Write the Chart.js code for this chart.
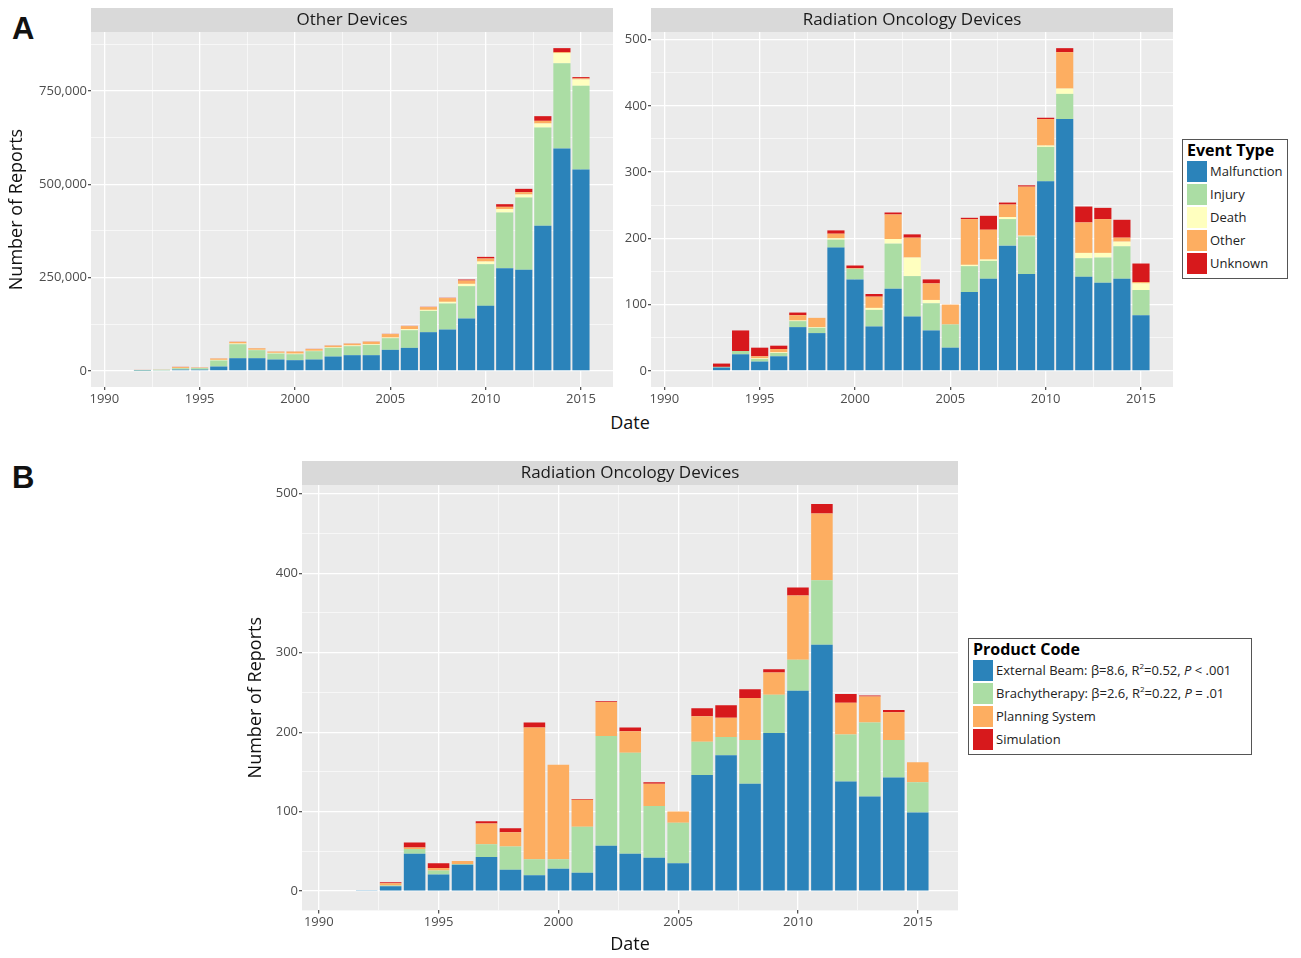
<!DOCTYPE html>
<html>
<head>
<meta charset="utf-8">
<script src="https://cdn.jsdelivr.net/npm/chart.js@4.4.1/dist/chart.umd.min.js"></script>
<style>
  body { margin: 0; background: #fff; font-family: "Open Sans", sans-serif; }
  #page { position: relative; width: 1301px; height: 958px; overflow: hidden; }
  canvas { position: absolute; }
  .letter { position: absolute; font-family: "Liberation Sans", Arial, sans-serif; font-weight: bold; font-size: 31px; line-height: 31px; color: #111; }
  .xtitle { position: absolute; width: 200px; margin-left: -100px; text-align: center; font-size: 18px; line-height: 22px; color: #111; }
  .legend { position: absolute; border: 1px solid #555; background: #fff; box-sizing: border-box; white-space: nowrap; }
  .legend .ttl { font-weight: bold; font-size: 16px; line-height: 21px; height: 21px; color: #000; }
  .legend .row { display: flex; height: 21px; margin-bottom: 2px; overflow: visible; }
  .legend .key { width: 20px; height: 21px; flex: none; }
  .legend .lab { margin-left: 3px; font-size: 13px; line-height: 21px; height: 21px; color: #222; }
  .legend sup { font-size: 8px; line-height: 0; vertical-align: 0; position: relative; top: -6px; }
</style>
</head>
<body>
<div id="page">
  <div class="letter" style="left:12px;top:13px;">A</div>
  <div class="letter" style="left:12px;top:462px;">B</div>
  <canvas id="chartA1" width="620" height="407" style="left:0;top:0;"></canvas>
  <canvas id="chartA2" width="560" height="407" style="left:620px;top:0;"></canvas>
  <div class="xtitle" style="left:630px;top:411px;">Date</div>
  <div class="legend" id="legendA" style="left:1182px;top:139px;width:106px;height:140px;padding:0 0 0 4px;"></div>
  <canvas id="chartB" width="735" height="505" style="left:230px;top:453px;"></canvas>
  <div class="legend" id="legendB" style="left:968px;top:638px;width:284px;height:117px;padding:0 0 0 4px;"></div>
</div>
<script>
const $ = (sel) => document.querySelector(sel);

/* Data: one bar per year, 1992-2015 */
const years = [1992, 1993, 1994, 1995, 1996, 1997, 1998, 1999, 2000, 2001, 2002, 2003,
               2004, 2005, 2006, 2007, 2008, 2009, 2010, 2011, 2012, 2013, 2014, 2015];

// Other devices, by event type
const otherMalfunction = [800, 1500, 3500, 3500, 11600, 33900, 33900, 30400, 28600, 30400, 38400, 42000,
                          42000, 56300, 61600, 103600, 110700, 140200, 174100, 275000, 270500, 388400, 595600, 539300];
const otherInjury = [1500, 1500, 3500, 3800, 16100, 37500, 21500, 16000, 16000, 22300, 23200, 24100,
                     27600, 31200, 47300, 57100, 69700, 86600, 111600, 149100, 193800, 263400, 228500, 224100];
const otherDeath = [100, 100, 500, 400, 1800, 1800, 1000, 1800, 1500, 1000, 1500, 2000,
                    1800, 1800, 2700, 2700, 4500, 6200, 7100, 8900, 8000, 10700, 26800, 17000];
const otherOther = [200, 300, 2500, 1000, 3500, 4300, 4000, 3300, 5500, 4700, 4500, 4800,
                    6800, 9300, 8300, 7400, 10000, 8900, 8000, 6300, 6300, 7100, 2700, 2700];
const otherUnknown = [100, 100, 700, 300, 300, 400, 300, 300, 300, 500, 400, 400,
                      400, 500, 600, 700, 800, 2700, 4500, 7100, 8900, 12500, 10700, 3600];

// Radiation oncology devices, by event type
const radMalfunction = [1, 5, 25, 14, 22, 66, 57, 186, 138, 67, 124, 82,
                        61, 35, 119, 139, 189, 146, 286, 380, 142, 133, 139, 84];
const radInjury = [0, 1, 5, 4, 5, 9, 8, 12, 16, 25, 68, 61,
                   41, 35, 39, 27, 40, 57, 52, 38, 28, 38, 49, 38];
const radDeath = [0, 0, 0, 1, 1, 1, 1, 2, 0, 3, 7, 28,
                  5, 0, 2, 2, 3, 1, 2, 8, 8, 7, 7, 10];
const radOther = [0, 0, 0, 3, 5, 8, 14, 7, 1, 17, 37, 30,
                  25, 30, 69, 45, 19, 74, 40, 55, 46, 51, 6, 2];
const radUnknown = [0, 5, 31, 13, 5, 4, 0, 5, 4, 4, 3, 5,
                    6, 0, 2, 21, 3, 2, 2, 6, 24, 17, 27, 28];

// Radiation oncology devices, by product code
const radExternal = [1, 6, 47, 21, 33, 43, 27, 20, 28, 23, 57, 47,
                     42, 35, 146, 171, 135, 199, 252, 310, 138, 119, 143, 99];
const radBrachy = [0, 1, 6, 5, 1, 16, 29, 20, 12, 58, 138, 127,
                   65, 51, 42, 23, 55, 48, 39, 81, 59, 93, 47, 38];
const radPlanning = [0, 3, 2, 3, 4, 26, 18, 166, 119, 34, 43, 27,
                     28, 14, 32, 24, 53, 28, 81, 84, 40, 33, 35, 25];
const radSimulation = [0, 1, 6, 6, 0, 3, 5, 6, 0, 1, 1, 5,
                       2, 0, 10, 16, 11, 4, 10, 12, 11, 1, 3, 0];

const eventTypes = ["Malfunction", "Injury", "Death", "Other", "Unknown"];
const eventColors = ["#2B83BA", "#ABDDA4", "#FFFFBF", "#FDAE61", "#D7191C"];
const productCodes = ["External Beam", "Brachytherapy", "Planning System", "Simulation"];
const productLabels = [
  "External Beam: β=8.6, R<sup>2</sup>=0.52, <i>P</i> &lt; .001",
  "Brachytherapy: β=2.6, R<sup>2</sup>=0.22, <i>P</i> = .01",
  "Planning System",
  "Simulation"
];
const productColors = ["#2B83BA", "#ABDDA4", "#FDAE61", "#D7191C"];

/* Axis ticks (major labelled, minor only as grid lines) */
const xMajor = [1990, 1995, 2000, 2005, 2010, 2015];
const xMinor = [1992.5, 1997.5, 2002.5, 2007.5, 2012.5];
const yMajorOther = [0, 250000, 500000, 750000];
const yMinorOther = [125000, 375000, 625000, 875000];
const yMajorRad = [0, 100, 200, 300, 400, 500];
const yMinorRad = [50, 150, 250, 350, 450];

Chart.defaults.font.family = "'Open Sans', sans-serif";
Chart.defaults.color = "#4D4D4D";

const stripPlugin = {
  id: "strip",
  beforeDraw(chart) {
    const { ctx, chartArea: a } = chart;
    const t = chart.titleBlock;
    ctx.save();
    ctx.fillStyle = "#D9D9D9";
    ctx.fillRect(a.left, t.top, a.right - a.left, t.bottom - t.top);
    ctx.fillStyle = "#EBEBEB";
    ctx.fillRect(a.left, a.top, a.right - a.left, a.bottom - a.top);
    ctx.restore();
  }
};

function makeSets(names, colors, series) {
  return names.map((name, i) => ({
    label: name,
    data: years.map((yr, j) => ({ x: yr, y: series[i][j] })),
    backgroundColor: colors[i],
    borderWidth: 0,
    barPercentage: 0.9,
    categoryPercentage: 1.0
  }));
}

function axisGrid(major) {
  return {
    color: "#FFFFFF",
    lineWidth: (c) => (c.tick && major.includes(c.tick.value) ? 1.3 : 0.6),
    tickColor: (c) => (c.tick && major.includes(c.tick.value) ? "#555" : "rgba(0,0,0,0)"),
    tickLength: 3,
    offset: false
  };
}

/* Build one panel */
function makePanel(id, o) {
  return new Chart($(id), {
    type: "bar",
    data: { datasets: makeSets(o.names, o.colors, o.series) },
    plugins: [stripPlugin],
    options: {
      responsive: false,
      animation: false,
      layout: { padding: { top: 8, left: 0, right: 7, bottom: 0 } },
      plugins: {
        legend: { display: false },
        tooltip: { enabled: false },
        title: {
          display: true, text: o.title, fullSize: false,
          color: "#1A1A1A",
          font: { size: 17, weight: "normal", lineHeight: 1.2 },
          padding: { top: 2, bottom: 1.6 }
        }
      },
      scales: {
        x: {
          type: "linear", stacked: true, offset: false,
          min: 1989.3, max: 2016.68,
          afterBuildTicks: (s) => { s.ticks = [...xMajor, ...xMinor].sort((a, b) => a - b).map(v => ({ value: v })); },
          afterFit: (s) => { s.height = o.xHeight; },
          ticks: { autoSkip: false, maxRotation: 0, padding: 1, font: { size: 13 },
                   callback: (v) => (xMajor.includes(v) ? String(v) : "") },
          grid: axisGrid(xMajor),
          border: { display: false },
          title: o.xTitle ? { display: true, text: "Date", color: "#111", font: { size: 18 }, padding: { top: 0, bottom: 2 } } : { display: false }
        },
        y: {
          stacked: true,
          min: o.yMin, max: o.yMax,
          afterBuildTicks: (s) => { s.ticks = [...o.yMajor, ...o.yMinor].sort((a, b) => a - b).map(v => ({ value: v })); },
          afterFit: (s) => { s.width = o.yWidth; },
          ticks: { padding: 1, font: { size: 13 },
                   callback: (v) => (o.yMajor.includes(v) ? v.toLocaleString("en-US") : "") },
          grid: axisGrid(o.yMajor),
          border: { display: false },
          title: o.yTitle ? { display: true, text: "Number of Reports", color: "#111", font: { size: 18 }, padding: { top: o.yTitlePad, bottom: 0 } } : { display: false }
        }
      }
    }
  });
}

makePanel("#chartA1", {
  title: "Other Devices",
  names: eventTypes, colors: eventColors,
  series: [otherMalfunction, otherInjury, otherDeath, otherOther, otherUnknown],
  yMin: -43200, yMax: 907500, yMajor: yMajorOther, yMinor: yMinorOther,
  yWidth: 91, yTitle: true, yTitlePad: 6, xHeight: 20, xTitle: false
});

makePanel("#chartA2", {
  title: "Radiation Oncology Devices",
  names: eventTypes, colors: eventColors,
  series: [radMalfunction, radInjury, radDeath, radOther, radUnknown],
  yMin: -24.35, yMax: 511.4, yMajor: yMajorRad, yMinor: yMinorRad,
  yWidth: 31, yTitle: false, xHeight: 20, xTitle: false
});

makePanel("#chartB", {
  title: "Radiation Oncology Devices",
  names: productCodes, colors: productColors,
  series: [radExternal, radBrachy, radPlanning, radSimulation],
  yMin: -24.3, yMax: 511, yMajor: yMajorRad, yMinor: yMinorRad,
  yWidth: 72, yTitle: true, yTitlePad: 15, xHeight: 47.6, xTitle: true
});

/* HTML legends */
function renderLegend(sel, title, labels, colors) {
  const rows = labels.map((l, i) =>
    `<div class="row"><div class="key" style="background:${colors[i]}"></div><div class="lab">${l}</div></div>`).join("");
  $(sel).innerHTML = `<div class="ttl">${title}</div>${rows}`;
}
renderLegend("#legendA", "Event Type", eventTypes, eventColors);
renderLegend("#legendB", "Product Code", productLabels, productColors);
</script>
</body>
</html>
